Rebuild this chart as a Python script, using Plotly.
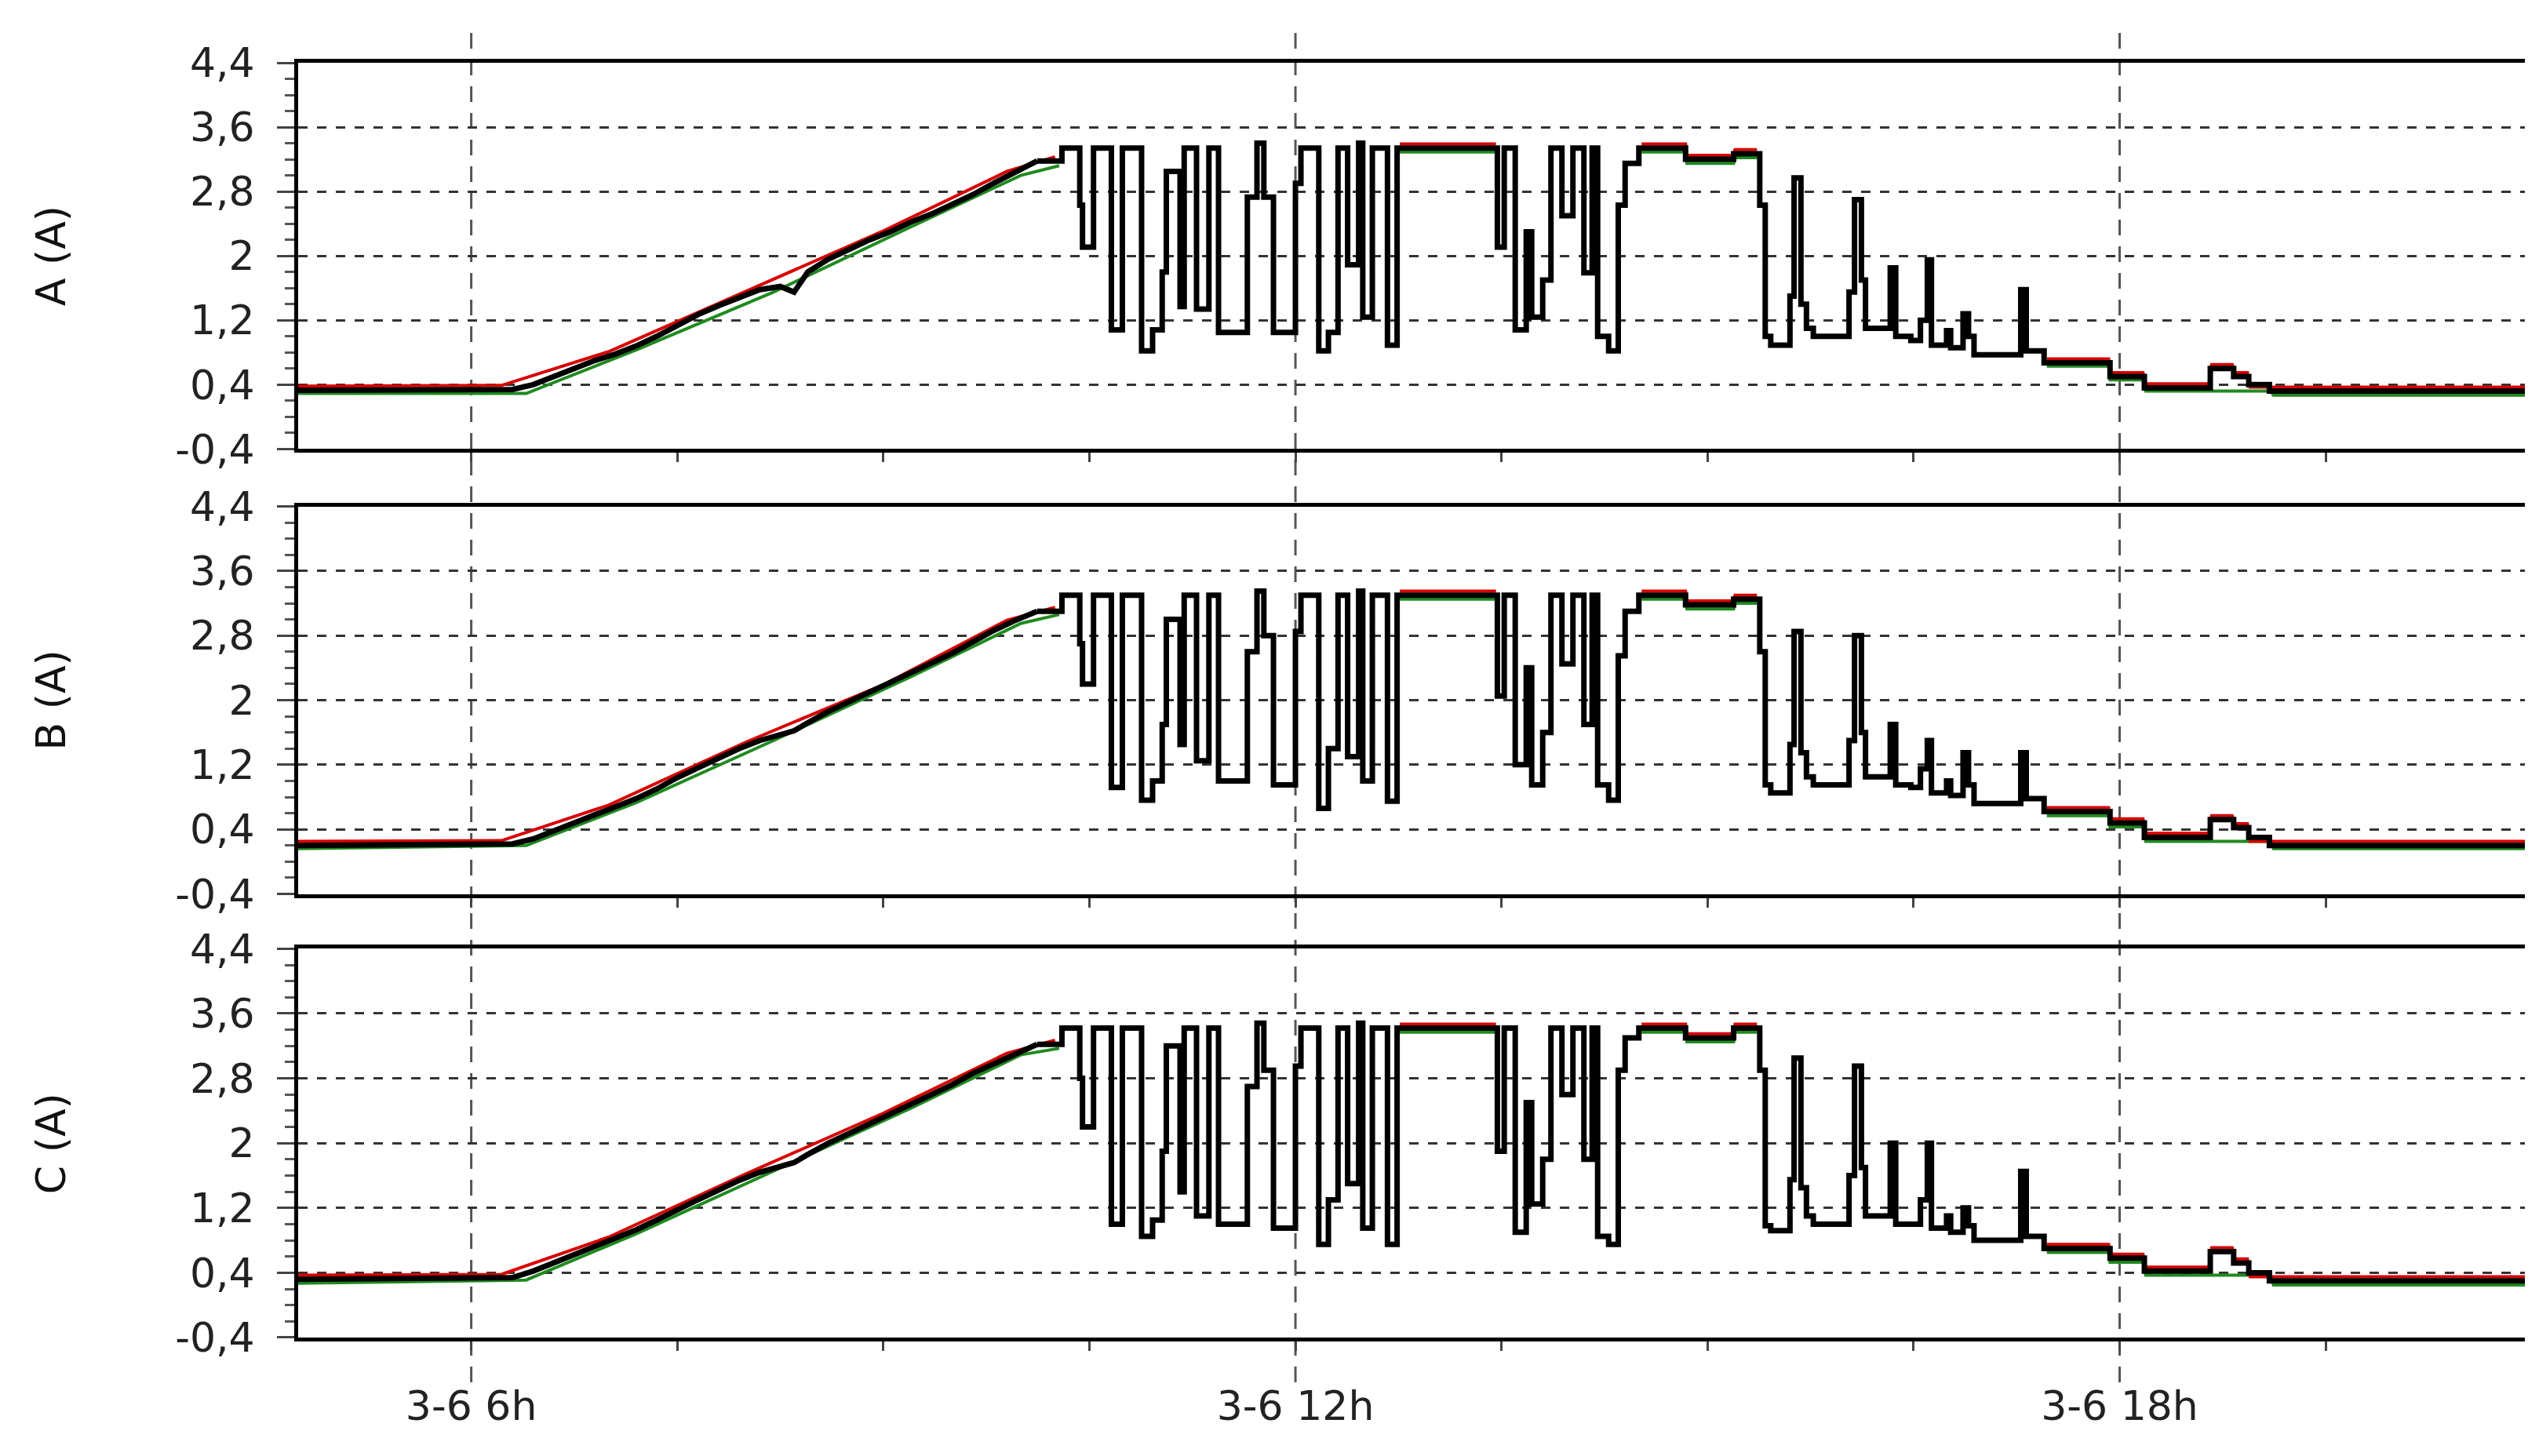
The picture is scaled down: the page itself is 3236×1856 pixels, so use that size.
import plotly.graph_objects as go
from plotly.subplots import make_subplots

# time axis in hours of day 3-6
t_hours = [4.74, 6.30, 6.45, 6.60, 6.75, 6.90, 7.05, 7.20, 7.35, 7.50,
           7.65, 7.80, 7.95, 8.10, 8.25, 8.35, 8.45, 8.60, 8.75, 8.90,
           9.05, 9.20, 9.35, 9.50, 9.65, 9.80, 9.95, 10.12, 10.30, 10.43,
           10.45, 10.53, 10.66, 10.74, 10.88, 10.96, 11.03, 11.06, 11.16, 11.19,
           11.28, 11.37, 11.44, 11.65, 11.72, 11.77, 11.84, 12.00, 12.04, 12.17,
           12.24, 12.31, 12.38, 12.46, 12.49, 12.56, 12.67, 12.74, 13.47, 13.52,
           13.60, 13.68, 13.72, 13.80, 13.86, 13.94, 14.02, 14.10, 14.16, 14.20,
           14.28, 14.35, 14.40, 14.50, 14.84, 15.19, 15.38, 15.42, 15.46, 15.60,
           15.63, 15.68, 15.72, 15.77, 16.03, 16.07, 16.12, 16.15, 16.33, 16.37,
           16.48, 16.55, 16.60, 16.63, 16.74, 16.77, 16.86, 16.90, 16.94, 17.28,
           17.32, 17.45, 17.93, 18.18, 18.66, 18.83, 18.94, 19.09, 20.95]
RAMP_END = 28  # first samples form the morning ramp (drawn straight)

current_a = [0.33, 0.34, 0.40, 0.50, 0.60, 0.70, 0.78, 0.88, 1.00, 1.14,
             1.27, 1.38, 1.48, 1.58, 1.62, 1.55, 1.80, 1.96, 2.08, 2.20,
             2.30, 2.42, 2.52, 2.64, 2.76, 2.90, 3.03, 3.18, 3.34, 2.63,
             2.11, 3.34, 1.08, 3.34, 0.82, 1.08, 1.80, 3.05, 1.37, 3.34,
             1.34, 3.34, 1.05, 2.73, 3.40, 2.73, 1.05, 2.90, 3.34, 0.82,
             1.05, 3.34, 1.89, 3.40, 1.24, 3.34, 0.89, 3.34, 2.11, 3.34,
             1.08, 2.30, 1.24, 1.70, 3.34, 2.50, 3.34, 1.79, 3.34, 1.00,
             0.82, 2.63, 3.15, 3.34, 3.20, 3.27, 2.63, 1.00, 0.89, 1.50,
             2.97, 1.40, 1.10, 1.00, 1.55, 2.70, 1.70, 1.10, 1.85, 1.00,
             0.95, 1.20, 1.95, 0.89, 1.07, 0.86, 1.28, 1.00, 0.77, 1.58,
             0.82, 0.67, 0.50, 0.36, 0.60, 0.50, 0.40, 0.32, 0.32]

current_b = [0.20, 0.22, 0.28, 0.38, 0.48, 0.58, 0.68, 0.78, 0.90, 1.04,
             1.16, 1.28, 1.40, 1.50, 1.58, 1.62, 1.72, 1.86, 1.98, 2.10,
             2.22, 2.34, 2.46, 2.58, 2.72, 2.86, 2.98, 3.10, 3.30, 2.70,
             2.20, 3.30, 0.92, 3.30, 0.76, 1.00, 1.70, 3.00, 1.45, 3.30,
             1.25, 3.30, 1.00, 2.60, 3.35, 2.80, 0.95, 2.85, 3.30, 0.66,
             1.40, 3.30, 1.30, 3.35, 1.00, 3.30, 0.75, 3.30, 2.05, 3.30,
             1.20, 2.40, 0.95, 1.60, 3.30, 2.45, 3.30, 1.70, 3.30, 0.95,
             0.76, 2.55, 3.10, 3.30, 3.18, 3.25, 2.60, 0.95, 0.85, 1.45,
             2.85, 1.35, 1.05, 0.95, 1.50, 2.80, 1.60, 1.05, 1.70, 0.95,
             0.92, 1.15, 1.50, 0.85, 1.00, 0.82, 1.35, 0.95, 0.72, 1.35,
             0.78, 0.62, 0.48, 0.30, 0.52, 0.42, 0.30, 0.20, 0.20]

current_c = [0.32, 0.34, 0.42, 0.52, 0.62, 0.72, 0.82, 0.93, 1.05, 1.18,
             1.30, 1.42, 1.54, 1.64, 1.72, 1.76, 1.86, 2.00, 2.12, 2.24,
             2.36, 2.48, 2.60, 2.72, 2.86, 2.98, 3.10, 3.22, 3.42, 2.80,
             2.20, 3.42, 1.00, 3.42, 0.85, 1.05, 1.90, 3.20, 1.40, 3.42,
             1.10, 3.42, 1.00, 2.70, 3.48, 2.90, 0.95, 2.95, 3.42, 0.75,
             1.30, 3.42, 1.50, 3.48, 0.95, 3.42, 0.75, 3.42, 1.90, 3.42,
             0.90, 2.50, 1.25, 1.80, 3.42, 2.60, 3.42, 1.80, 3.42, 0.85,
             0.75, 2.90, 3.30, 3.42, 3.30, 3.42, 2.90, 0.98, 0.92, 1.55,
             3.05, 1.45, 1.10, 1.00, 1.60, 2.95, 1.70, 1.10, 2.00, 1.00,
             1.00, 1.30, 2.00, 0.95, 1.10, 0.90, 1.20, 0.98, 0.80, 1.65,
             0.85, 0.70, 0.58, 0.42, 0.66, 0.52, 0.40, 0.30, 0.30]

# max (red) and min (green) envelopes, only where they show beside the mean
hi_hours = [4.74, 6.22, 7.0, 8.0, 9.0, 9.9, 10.25, 10.28,
            12.76, 13.46, 13.47,
            14.52, 14.84, 14.85, 15.19, 15.20, 15.36, 15.37,
            17.47, 17.92, 17.93, 18.17, 18.19, 18.65, 18.67, 18.82, 18.84, 18.93, 18.95, 20.95]
hi_a = [0.38, 0.39, 0.81, 1.56, 2.31, 3.05, 3.23, None,
        3.39, 3.39, None,
        3.39, 3.39, 3.25, 3.25, 3.32, 3.32, None,
        0.72, 0.72, 0.55, 0.55, 0.41, 0.41, 0.65, 0.65, 0.55, 0.55, 0.37, 0.37]
hi_b = [0.25, 0.26, 0.70, 1.48, 2.19, 2.99, 3.15, None,
        3.35, 3.35, None,
        3.35, 3.35, 3.23, 3.23, 3.30, 3.30, None,
        0.67, 0.67, 0.53, 0.53, 0.35, 0.35, 0.57, 0.57, 0.47, 0.47, 0.25, 0.25]
hi_c = [0.37, 0.38, 0.84, 1.62, 2.37, 3.11, 3.27, None,
        3.47, 3.47, None,
        3.47, 3.47, 3.35, 3.35, 3.47, 3.47, None,
        0.75, 0.75, 0.63, 0.63, 0.47, 0.47, 0.71, 0.71, 0.57, 0.57, 0.35, 0.35]

lo_hours = [4.74, 6.4, 7.2, 8.2, 9.2, 10.0, 10.28, 10.29,
            12.76, 13.46, 13.47,
            14.52, 14.84, 14.85, 15.19, 15.20, 15.36, 15.37,
            17.47, 17.92, 17.93, 18.17, 18.19, 19.1, 19.12, 20.95]
lo_a = [0.29, 0.29, 0.83, 1.55, 2.36, 3.00, 3.12, None,
        3.29, 3.29, None,
        3.29, 3.29, 3.15, 3.15, 3.22, 3.22, None,
        0.63, 0.63, 0.46, 0.46, 0.32, 0.32, 0.27, 0.27]
lo_b = [0.16, 0.20, 0.73, 1.50, 2.29, 2.95, 3.06, None,
        3.25, 3.25, None,
        3.25, 3.25, 3.13, 3.13, 3.20, 3.20, None,
        0.57, 0.57, 0.43, 0.43, 0.25, 0.25, 0.16, 0.16]
lo_c = [0.27, 0.31, 0.88, 1.65, 2.43, 3.09, 3.17, None,
        3.37, 3.37, None,
        3.37, 3.37, 3.25, 3.25, 3.37, 3.37, None,
        0.65, 0.65, 0.53, 0.53, 0.37, 0.37, 0.25, 0.25]

panel_titles = ['A (A)', 'B (A)', 'C (A)']
y_tick_vals = [-0.4, 0.4, 1.2, 2, 2.8, 3.6, 4.4]
y_tick_text = ['-0,4', '0,4', '1,2', '2', '2,8', '3,6', '4,4']
x_tick_vals = [6, 7.5, 9, 10.5, 12, 13.5, 15, 16.5, 18, 19.5]
x_tick_text = ['3-6 6h', '', '', '', '3-6 12h', '', '', '', '3-6 18h', '']
x_grid_hours = [6, 12, 18]

FONT = 'DejaVu Sans'
FONT_SIZE = 52
BLACK_W = 7

fig = make_subplots(rows=3, cols=1, shared_xaxes=True)

panels = [(current_a, hi_a, lo_a), (current_b, hi_b, lo_b), (current_c, hi_c, lo_c)]
for row, (mean_v, hi_v, lo_v) in enumerate(panels, start=1):
    fig.add_trace(go.Scatter(x=lo_hours, y=lo_v, mode='lines',
                             line=dict(color='#1f8a1f', width=4)), row=row, col=1)
    fig.add_trace(go.Scatter(x=hi_hours, y=hi_v, mode='lines',
                             line=dict(color='#d80000', width=4)), row=row, col=1)
    # morning ramp: straight line
    fig.add_trace(go.Scatter(x=t_hours[:RAMP_END], y=mean_v[:RAMP_END], mode='lines',
                             line=dict(color='#000000', width=BLACK_W)), row=row, col=1)
    # rest of the day: stepped samples
    fig.add_trace(go.Scatter(x=t_hours[RAMP_END - 1:], y=mean_v[RAMP_END - 1:], mode='lines',
                             line_shape='hv', line=dict(color='#000000', width=BLACK_W)),
                  row=row, col=1)

domains = [[0.697, 1.0], [0.348, 0.652], [0.0, 0.305]]
for row in range(1, 4):
    fig.update_yaxes(domain=domains[row - 1], row=row, col=1)

fig.update_xaxes(
    range=[4.74, 20.95], tickvals=x_tick_vals, ticktext=x_tick_text,
    ticks='outside', ticklen=12, tickwidth=3, tickcolor='#444',
    showline=True, linecolor='black', linewidth=5, mirror=True,
    showgrid=False, zeroline=False,
    tickfont=dict(family=FONT, size=FONT_SIZE, color='#222'),
)
fig.update_xaxes(showticklabels=False, row=1, col=1)
fig.update_xaxes(showticklabels=False, row=2, col=1)
fig.update_xaxes(showticklabels=True, ticklabelstandoff=26, row=3, col=1)

fig.update_yaxes(
    range=[-0.4, 4.4], tickvals=y_tick_vals, ticktext=y_tick_text,
    ticks='outside', ticklen=22, tickwidth=3, tickcolor='#444',
    minor=dict(dtick=0.2, tick0=-0.4, ticks='outside', ticklen=12,
               tickwidth=3, tickcolor='#555', showgrid=False),
    showline=True, linecolor='black', linewidth=5, mirror=False,
    showgrid=True, gridcolor='#333', gridwidth=3, griddash='12px,12px',
    zeroline=False, ticklabelstandoff=18,
    tickfont=dict(family=FONT, size=FONT_SIZE, color='#222'),
)

for h in x_grid_hours:
    fig.add_shape(type='line', xref='x', yref='paper', x0=h, x1=h, y0=-0.035, y1=1.03,
                  line=dict(color='#555', width=3, dash='20px,14px'), layer='below')

for row, title in enumerate(panel_titles):
    lo, hi = domains[row]
    fig.add_annotation(text=title, xref='paper', yref='paper', x=-0.111, y=(lo + hi) / 2,
                       xanchor='center', yanchor='middle', textangle=-90, showarrow=False,
                       font=dict(family=FONT, size=FONT_SIZE, color='#111'))

fig.update_layout(
    width=3236, height=1856,
    margin=dict(l=372, r=26, t=72, b=159),
    paper_bgcolor='white', plot_bgcolor='rgba(0,0,0,0)',
    showlegend=False,
)

fig.write_html("out.html")
